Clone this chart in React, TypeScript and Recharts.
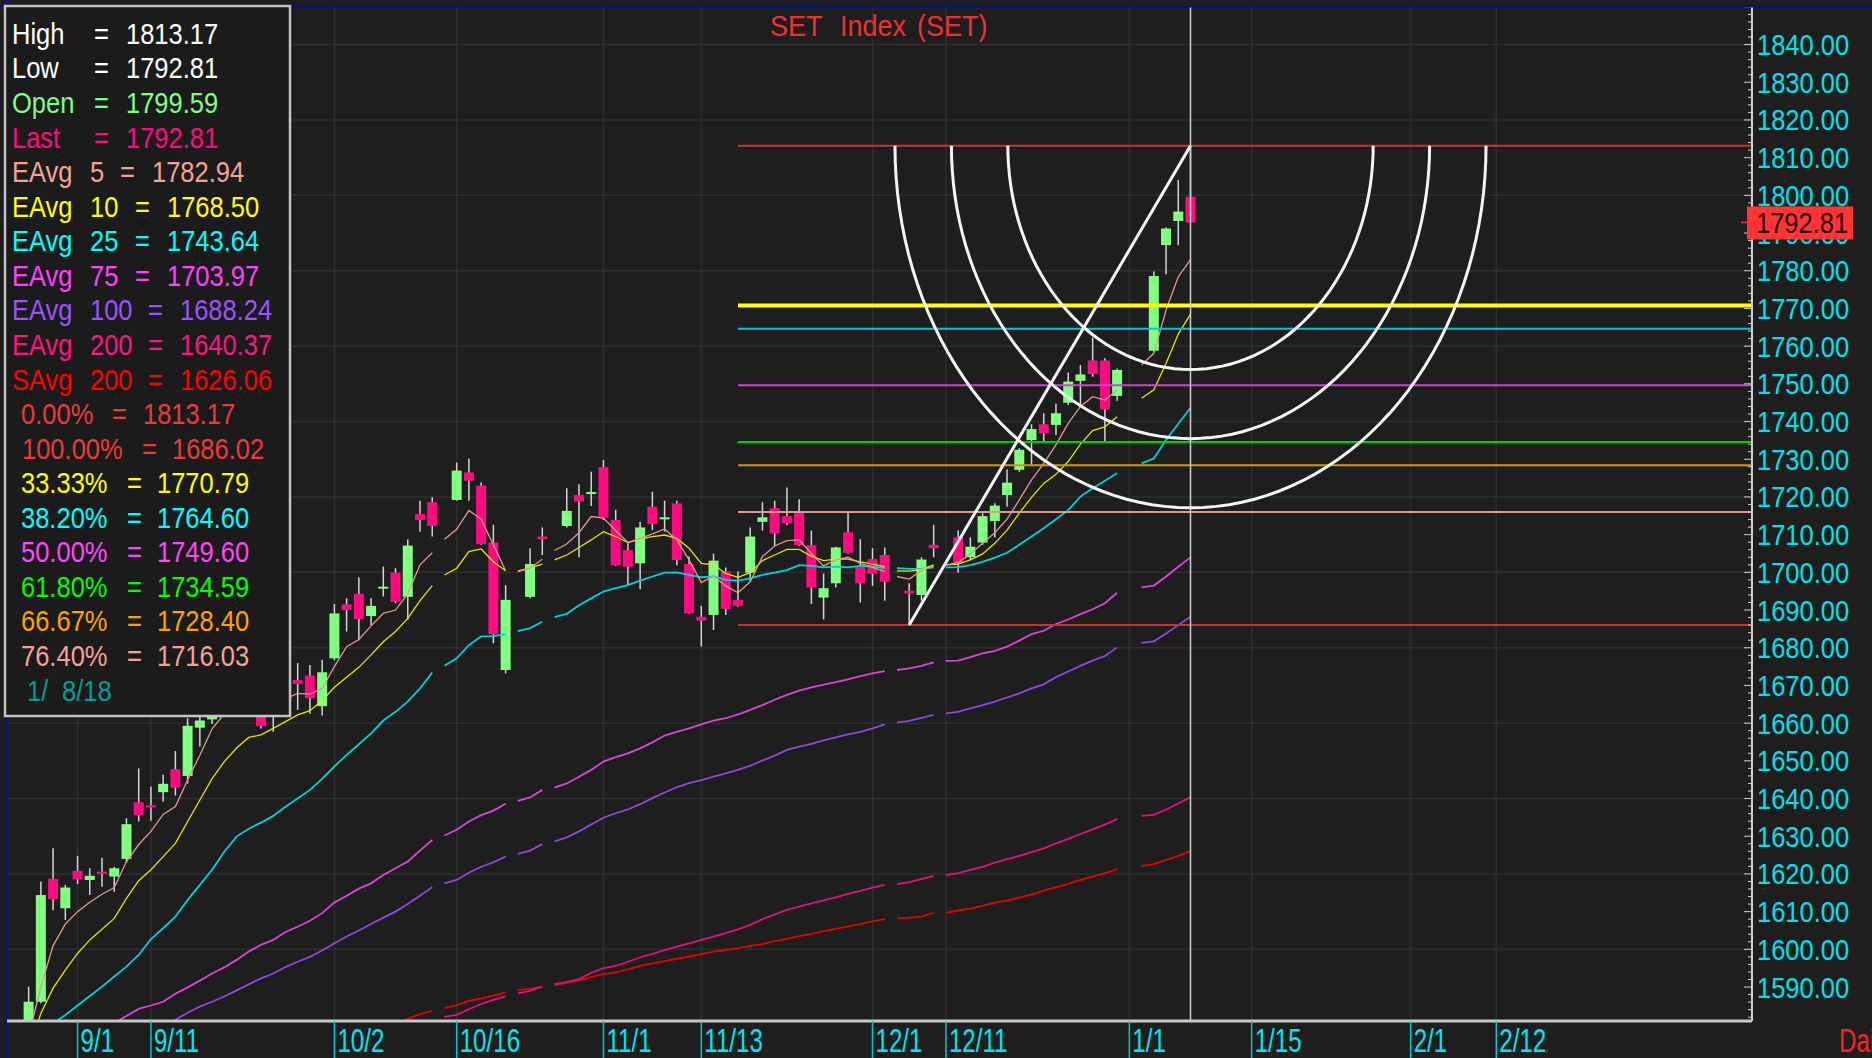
import React from "react";
import {
  ComposedChart,
  Bar,
  Line,
  Scatter,
  XAxis,
  YAxis,
  CartesianGrid,
  ReferenceLine,
} from "recharts";

const W = 1872;
const H = 1058;
const BG = "#1e1e1e";
const FONT = "'Liberation Sans', Arial, Helvetica, sans-serif";
const UP = "#80ff80";
const DOWN = "#ff0a80";
const _ = null;

// weekday slots, 0 = 9/1. holidays 30, 36, 39, 67, 71, 87 only carry an average point
const DAYS = [
  -4, -3, -2, -1, 0, 1, 2, 3, 4, 5, 6, 7, 8, 9, 10, 11, 12, 13, 14, 15, 16, 17, 18, 19, 20,
  21, 22, 23, 24, 25, 26, 27, 28, 29, 30, 31, 32, 33, 34, 35, 36, 37, 38, 39, 40, 41, 42, 43,
  44, 45, 46, 47, 48, 49, 50, 51, 52, 53, 54, 55, 56, 57, 58, 59, 60, 61, 62, 63, 64, 65, 66,
  67, 68, 69, 70, 71, 72, 73, 74, 75, 76, 77, 78, 79, 80, 81, 82, 83, 84, 85, 87, 88, 89, 90, 91,
];
// where the average lines break
const BREAKS = [29.5, 35.5, 38.5, 66.5, 70.5, 86.5];

const OPEN = [
  1575.0, 1586.1, 1618.7, 1610.9, 1620.8, 1618.4, 1620.6, 1619.3, 1624.0, 1639.0, 1638.2, 1641.7,
  1647.8, 1646.0, 1658.8, 1661.0, 1664.5, 1667.0, 1664.0, 1667.0, 1663.0, 1667.0, 1671.4, 1672.6,
  1664.5, 1677.2, 1691.5, 1694.3, 1688.4, 1696.0, 1699.9, 1693.5, 1715.5, 1718.6, _, 1719.2,
  1726.5, 1723.0, 1707.9, 1674.1, _, 1693.5, 1709.5, _, 1712.3, 1720.5, 1721.0, 1727.9, 1713.9,
  1705.9, 1702.4, 1717.4, 1714.4, 1718.3, 1702.2, 1688.2, 1688.7, 1700.2, 1692.7, 1699.9, 1713.4,
  1717.0, 1714.9, 1716.1, 1707.2, 1693.3, 1697.1, 1710.6, 1701.5, 1703.5, 1704.6, _, 1695.1,
  1694.0, 1707.3, _, 1709.3, 1704.0, 1707.9, 1713.6, 1720.5, 1727.2, 1735.1, 1739.3, 1739.1,
  1745.0, 1750.8, 1756.2, 1756.2, 1746.8, _, 1758.8, 1786.8, 1793.2, 1799.59,
];
const HIGH = [
  1590.1, 1618.0, 1626.8, 1617.1, 1624.8, 1621.5, 1624.3, 1621.9, 1634.8, 1648.0, 1643.2, 1646.3,
  1652.6, 1661.3, 1662.5, 1666.0, 1668.0, 1670.0, 1667.5, 1669.0, 1668.0, 1673.0, 1675.9, 1675.4,
  1676.8, 1691.6, 1693.1, 1698.7, 1693.1, 1701.5, 1701.1, 1708.8, 1719.0, 1719.9, _, 1729.1,
  1730.2, 1723.8, 1712.6, 1696.6, _, 1706.4, 1711.9, _, 1722.3, 1723.4, 1726.7, 1729.8, 1716.6,
  1707.7, 1713.4, 1721.4, 1719.0, 1719.0, 1704.2, 1691.1, 1705.0, 1701.3, 1700.2, 1711.9, 1718.6,
  1719.0, 1722.5, 1719.4, 1711.1, 1699.7, 1706.8, 1716.1, 1708.8, 1706.4, 1706.6, _, 1697.1,
  1704.0, 1712.6, _, 1711.2, 1709.3, 1715.7, 1718.3, 1727.3, 1732.9, 1739.3, 1742.2, 1744.7,
  1753.0, 1755.0, 1762.3, 1756.8, 1754.1, _, 1779.8, 1791.5, 1804.1, 1813.17,
];
const LOW = [
  1573.0, 1585.7, 1610.4, 1607.8, 1617.3, 1614.4, 1616.6, 1615.3, 1623.0, 1633.9, 1634.1, 1639.2,
  1640.8, 1644.0, 1653.8, 1659.8, 1662.5, 1663.0, 1662.5, 1658.6, 1657.7, 1665.0, 1663.5, 1662.5,
  1662.0, 1676.7, 1684.3, 1682.0, 1686.0, 1693.6, 1691.8, 1687.4, 1710.8, 1709.5, _, 1719.0,
  1719.0, 1707.3, 1681.2, 1673.2, _, 1693.1, 1704.6, _, 1711.9, 1704.0, 1717.6, 1713.9, 1701.7,
  1696.6, 1695.5, 1711.2, 1710.8, 1701.9, 1689.0, 1680.3, 1684.7, 1688.7, 1690.9, 1697.5, 1711.1,
  1707.0, 1712.5, 1707.0, 1691.6, 1687.5, 1696.0, 1705.0, 1692.0, 1696.4, 1692.5, _, 1686.02,
  1692.5, 1704.0, _, 1699.9, 1703.3, 1707.3, 1709.3, 1717.4, 1726.7, 1728.5, 1734.7, 1736.4,
  1744.4, 1744.0, 1751.9, 1734.7, 1745.5, _, 1758.5, 1779.1, 1786.8, 1792.81,
];
const CLOSE = [
  1586.1, 1614.4, 1613.3, 1616.4, 1618.6, 1619.5, 1620.5, 1621.5, 1633.2, 1635.6, 1638.0, 1643.9,
  1642.9, 1659.3, 1660.7, 1664.5, 1667.0, 1664.0, 1666.0, 1659.2, 1667.0, 1671.0, 1670.4, 1666.6,
  1673.5, 1689.1, 1690.0, 1687.6, 1691.1, 1696.2, 1692.2, 1707.1, 1713.9, 1712.3, _, 1727.0,
  1724.3, 1707.5, 1683.6, 1692.7, _, 1702.2, 1708.8, _, 1716.3, 1718.8, 1721.3, 1714.5, 1701.9,
  1701.5, 1711.9, 1712.8, 1714.6, 1703.3, 1689.1, 1687.2, 1703.1, 1690.3, 1691.1, 1709.5, 1714.6,
  1710.3, 1713.0, 1707.2, 1696.0, 1695.8, 1706.6, 1705.2, 1697.1, 1699.6, 1697.5, _, 1694.4,
  1703.4, 1706.4, _, 1702.4, 1706.8, 1714.9, 1717.7, 1723.8, 1732.5, 1738.0, 1736.9, 1742.2,
  1750.6, 1752.5, 1752.6, 1743.2, 1753.7, _, 1778.6, 1791.2, 1795.7, 1792.81,
];

const EMA5 = [
  1577.0, 1590.0, 1601.0, 1606.7, 1610.0, 1612.5, 1614.6, 1616.4, 1623.3, 1627.8, 1631.3, 1635.8,
  1637.9, 1644.9, 1651.5, 1658.5, 1662.5, 1664.0, 1665.0, 1663.5, 1664.5, 1666.5, 1667.9, 1667.7,
  1669.2, 1675.0, 1680.3, 1682.2, 1685.8, 1689.1, 1690.0, 1694.3, 1702.0, 1705.2, 1708.8, 1711.4,
  1716.4, 1714.1, 1707.3, 1700.4, 1700.2, 1701.1, 1703.5, 1705.8, 1707.5, 1710.5, 1714.8, 1714.4,
  1711.1, 1707.9, 1709.0, 1710.2, 1711.5, 1708.6, 1703.3, 1697.3, 1699.0, 1696.4, 1694.6, 1697.5,
  1704.2, 1707.0, 1708.4, 1708.6, 1705.0, 1701.7, 1703.3, 1704.0, 1702.4, 1701.3, 1700.2, 1698.9,
  1698.2, 1700.5, 1701.7, 1702.0, 1702.6, 1704.9, 1707.7, 1710.5, 1714.1, 1719.2, 1724.5, 1728.9,
  1733.8, 1739.5, 1744.0, 1746.6, 1745.7, 1748.4, 1755.0, 1758.1, 1769.6, 1778.4, 1782.94,
];
const EMA10 = [
  1573.0, 1583.0, 1589.7, 1594.5, 1598.9, 1602.5, 1605.3, 1608.2, 1613.5, 1618.2, 1621.1, 1624.6,
  1628.1, 1633.9, 1639.6, 1645.3, 1649.8, 1653.4, 1656.2, 1656.9, 1658.6, 1660.4, 1662.2, 1663.3,
  1666.0, 1669.5, 1672.2, 1674.8, 1678.1, 1681.6, 1684.3, 1687.8, 1692.5, 1696.5, 1699.3, 1701.1,
  1705.5, 1706.2, 1702.8, 1700.4, 1700.4, 1701.1, 1702.2, 1703.3, 1704.6, 1706.6, 1708.6, 1710.8,
  1709.5, 1707.9, 1708.8, 1709.5, 1709.9, 1709.0, 1706.4, 1702.4, 1702.0, 1699.7, 1698.7, 1699.9,
  1703.1, 1704.6, 1706.1, 1706.1, 1704.3, 1703.1, 1703.5, 1703.5, 1702.8, 1702.2, 1701.5, 1700.4,
  1700.3, 1700.7, 1702.0, 1702.0, 1702.2, 1703.3, 1704.9, 1707.7, 1711.2, 1715.7, 1719.9, 1723.6,
  1726.0, 1729.4, 1734.0, 1737.6, 1738.6, 1741.3, 1746.2, 1748.4, 1755.4, 1763.2, 1768.5,
];
const EMA25 = [
  1576.0, 1578.0, 1580.3, 1582.6, 1585.1, 1587.6, 1590.1, 1592.8, 1595.4, 1598.5, 1602.7, 1605.6,
  1608.7, 1613.1, 1617.1, 1621.1, 1625.9, 1629.9, 1632.0, 1633.6, 1635.4, 1637.8, 1640.0, 1642.3,
  1645.2, 1648.5, 1651.6, 1654.4, 1657.3, 1660.7, 1663.0, 1665.7, 1669.2, 1673.4, 1675.2, 1677.2,
  1680.7, 1683.0, 1683.1, 1683.6, 1684.4, 1685.2, 1686.9, 1688.1, 1689.0, 1691.3, 1693.1, 1694.9,
  1695.8, 1696.6, 1697.8, 1698.9, 1699.9, 1700.0, 1699.3, 1698.7, 1698.9, 1698.0, 1697.8, 1698.4,
  1699.3, 1699.9, 1700.6, 1701.9, 1701.7, 1701.3, 1701.5, 1701.3, 1701.7, 1701.5, 1701.1, 1701.1,
  1700.9, 1701.0, 1701.3, 1701.3, 1701.4, 1701.9, 1702.8, 1703.9, 1705.2, 1707.3, 1709.5, 1711.7,
  1714.1, 1716.5, 1720.1, 1722.3, 1724.3, 1726.3, 1728.9, 1730.2, 1735.1, 1739.4, 1743.64,
];
const EMA75 = [
  _, _, _, _, _, _, 1578.5, 1580.5, 1582.3, 1584.2, 1585.1, 1586.1,
  1588.2, 1589.9, 1591.7, 1593.6, 1595.2, 1597.2, 1599.4, 1601.2, 1602.5, 1604.6, 1606.0, 1607.6,
  1609.6, 1612.4, 1614.2, 1616.1, 1617.5, 1619.7, 1621.5, 1623.3, 1626.2, 1629.0, 1630.2, 1631.7,
  1633.9, 1635.6, 1636.8, 1638.6, 1639.4, 1640.3, 1642.3, 1642.9, 1644.0, 1645.8, 1647.6, 1649.8,
  1651.0, 1652.0, 1653.3, 1654.9, 1656.7, 1657.7, 1658.6, 1659.7, 1660.7, 1661.3, 1662.3, 1663.5,
  1664.8, 1666.2, 1667.5, 1668.6, 1669.5, 1670.2, 1670.9, 1671.6, 1672.5, 1673.2, 1673.8, 1674.1,
  1674.5, 1675.2, 1676.1, 1676.5, 1676.6, 1677.5, 1678.5, 1679.2, 1680.3, 1681.9, 1683.6, 1684.5,
  1686.3, 1687.5, 1688.9, 1690.2, 1691.8, 1694.6, 1696.0, 1696.5, 1698.9, 1701.5, 1703.97,
];
const EMA100 = [
  _, _, _, _, _, _, _, _, _, _, _, 1579.5,
  1581.3, 1583.2, 1584.8, 1586.1, 1587.5, 1589.1, 1590.7, 1592.3, 1593.6, 1595.3, 1596.7, 1598.0,
  1599.7, 1601.6, 1603.4, 1605.0, 1606.7, 1608.4, 1610.0, 1612.0, 1614.2, 1616.5, 1617.5, 1618.4,
  1620.3, 1621.9, 1623.1, 1624.6, 1625.3, 1626.2, 1627.9, 1628.6, 1629.7, 1631.3, 1633.1, 1634.9,
  1636.1, 1637.1, 1638.5, 1640.1, 1641.6, 1643.0, 1644.1, 1644.9, 1645.8, 1646.7, 1647.6, 1648.7,
  1650.1, 1651.4, 1652.9, 1653.8, 1654.5, 1655.4, 1656.2, 1657.0, 1657.7, 1658.6, 1659.7, 1660.2,
  1660.6, 1661.4, 1662.2, 1662.6, 1663.0, 1663.9, 1664.8, 1665.7, 1666.8, 1667.9, 1669.2, 1670.3,
  1672.2, 1673.7, 1675.2, 1676.6, 1677.8, 1680.1, 1681.3, 1681.7, 1683.8, 1686.0, 1688.24,
];
const EMA200 = [
  _, _, _, _, _, _, _, _, _, _, _, _,
  _, _, _, _, _, _, _, _, _, _, _, _,
  _, _, _, _, _, _, _, _, _, _, 1582.1, 1582.6,
  1584.1, 1585.5, 1586.6, 1587.5, 1588.3, 1589.0, 1590.1, 1590.8, 1591.3, 1592.1, 1593.8, 1595.0,
  1595.6, 1596.7, 1597.9, 1598.8, 1599.8, 1600.7, 1601.6, 1602.5, 1603.4, 1604.3, 1605.3, 1606.5,
  1608.0, 1609.2, 1610.5, 1611.3, 1612.2, 1613.0, 1613.8, 1614.7, 1615.5, 1616.4, 1617.1, 1617.3,
  1617.8, 1618.6, 1619.5, 1619.7, 1620.2, 1621.1, 1621.9, 1623.0, 1623.9, 1624.8, 1625.8, 1626.8,
  1628.1, 1629.3, 1630.6, 1631.8, 1633.1, 1634.6, 1635.4, 1635.7, 1637.1, 1638.7, 1640.37,
];
const SMA200 = [
  _, _, _, _, _, _, _, _, _, _, _, _,
  _, _, _, _, _, _, _, _, _, _, _, _,
  _, _, _, _, _, _, 1580.2, 1581.5, 1582.8, 1583.7, 1584.4, 1585.2,
  1586.3, 1587.0, 1587.7, 1588.6, 1589.2, 1589.5, 1590.1, 1590.5, 1591.2, 1591.8, 1592.6, 1593.4,
  1593.9, 1594.7, 1595.6, 1596.3, 1596.9, 1597.5, 1598.1, 1598.7, 1599.4, 1599.8, 1600.3, 1600.9,
  1601.4, 1602.2, 1602.8, 1603.5, 1604.1, 1604.8, 1605.4, 1606.1, 1606.7, 1607.4, 1608.0, 1608.2,
  1608.4, 1608.7, 1609.7, 1609.7, 1610.3, 1610.8, 1611.5, 1612.4, 1612.9, 1613.7, 1614.6, 1615.6,
  1616.5, 1617.3, 1618.4, 1619.3, 1620.2, 1621.3, 1622.1, 1622.6, 1623.7, 1624.8, 1626.06,
];

const DATE_TICKS = [0, 6, 21, 31, 43, 51, 65, 71, 86, 96, 109, 116];
const DATE_LABELS = ["9/1", "9/11", "10/2", "10/16", "11/1", "11/13", "12/1", "12/11", "1/1", "1/15", "2/1", "2/12"];
const PRICE_LABELS = [
  1590, 1600, 1610, 1620, 1630, 1640, 1650, 1660, 1670, 1680, 1690, 1700, 1710,
  1720, 1730, 1740, 1750, 1760, 1770, 1780, 1790, 1800, 1810, 1820, 1830, 1840,
];
const GRID_PRICES = [1600, 1620, 1640, 1660, 1680, 1700, 1720, 1740, 1760, 1780, 1800, 1820, 1840];
const LAST_PRICE = 1792.81;

// fibonacci retracement from the 12/6 low to the 1/8 high
const FIB_START = 54;
const FIB_LEVELS = [1813.17, 1686.02, 1770.79, 1764.6, 1749.6, 1734.59, 1728.4, 1716.03];
const FIB_COLORS = ["#c83232", "#c83232", "#ffff00", "#00c8d2", "#d242d2", "#00d200", "#d29614", "#e09a92"];
const FIB_WIDTHS = [2, 2, 4, 2, 2, 2, 2, 2];
const TREND_LOW = { x: 68, y: 1686.02 };
const TREND_HIGH = { x: 91, y: 1813.17 };
const ARC_RATIOS = [0.382, 0.5, 0.618];
const ARC_SPAN_DAYS = 39.1;
const ARC_SPAN_POINTS = 155.4;

const X_MIN = -5.85;
const X_MAX = 136.91;
const Y_MIN = 1580.99;
const Y_MAX = 1850.23;

const LEGEND = [
  ["High", "", "1813.17", "#ffffff", "p"],
  ["Low", "", "1792.81", "#ffffff", "p"],
  ["Open", "", "1799.59", "#80ff80", "p"],
  ["Last", "", "1792.81", "#ff0a80", "p"],
  ["EAvg", "5", "1782.94", "#f4a294", "e1"],
  ["EAvg", "10", "1768.50", "#ffff00", "e2"],
  ["EAvg", "25", "1743.64", "#00ffff", "e2"],
  ["EAvg", "75", "1703.97", "#ff40ff", "e2"],
  ["EAvg", "100", "1688.24", "#9a52ff", "e3"],
  ["EAvg", "200", "1640.37", "#ff1482", "e3"],
  ["SAvg", "200", "1626.06", "#ff0000", "e3"],
  ["0.00%", "", "1813.17", "#ec3a3a", "f0"],
  ["100.00%", "", "1686.02", "#ec3a3a", "f100"],
  ["33.33%", "", "1770.79", "#ffff00", "f"],
  ["38.20%", "", "1764.60", "#00ffff", "f"],
  ["50.00%", "", "1749.60", "#ff44ff", "f"],
  ["61.80%", "", "1734.59", "#00ff00", "f"],
  ["66.67%", "", "1728.40", "#ffa200", "f"],
  ["76.40%", "", "1716.03", "#f4a294", "f"],
];
const LEGEND_COLS: Record<string, number[]> = {
  p: [12, 0, 94, 126],
  e1: [12, 90, 120, 152],
  e2: [12, 90, 135, 167],
  e3: [12, 90, 148, 180],
  f0: [21, 0, 112, 143],
  f100: [22, 0, 142, 172],
  f: [21, 0, 127, 157],
};

const rows: any[] = DAYS.map((x, i) => ({
  x,
  open: OPEN[i],
  high: HIGH[i],
  low: LOW[i],
  close: CLOSE[i],
  e5: EMA5[i],
  e10: EMA10[i],
  e25: EMA25[i],
  e75: EMA75[i],
  e100: EMA100[i],
  e200: EMA200[i],
  s200: SMA200[i],
}));
BREAKS.forEach((b) => rows.push({ x: b }));
rows.sort((a, b) => a.x - b.x);

const ARC_STEPS = 72;
const arcs = ARC_RATIOS.map((r) =>
  Array.from({ length: ARC_STEPS + 1 }, (_, k) => {
    const t = Math.PI + (Math.PI * k) / ARC_STEPS;
    return {
      x: TREND_HIGH.x + ARC_SPAN_DAYS * r * Math.cos(t),
      y: TREND_HIGH.y + ARC_SPAN_POINTS * r * Math.sin(t),
    };
  })
);

const yTicks = Array.from({ length: 135 }, (_, i) => 1582 + 2 * i).concat([LAST_PRICE]);

const TXT = 29;
const TXT_SX = 0.88;

function SText({ x, y, size, sx, color, children }: any) {
  return (
    <text
      transform={`translate(${x},${y}) scale(${sx},1)`}
      fontSize={size}
      fill={color}
      fontFamily={FONT}
      style={{ whiteSpace: "pre" }}
    >
      {children}
    </text>
  );
}

function Candle(props: any) {
  const { x, y, width, height, payload } = props;
  if (!payload || payload.high == null) return null;
  const { open, close, high, low } = payload;
  const top = Math.min(y, y + height);
  const h = Math.abs(height);
  const k = high > low ? h / (high - low) : 0;
  const cx = x + width / 2;
  const yo = top + (high - open) * k;
  const yc = top + (high - close) * k;
  const up = close >= open;
  return (
    <g>
      <line x1={cx} x2={cx} y1={top} y2={top + h} stroke="#d4d4d4" strokeWidth={1.5} />
      <rect x={cx - 5} y={Math.min(yo, yc)} width={10} height={Math.max(Math.abs(yc - yo), 2)} fill={up ? UP : DOWN} />
    </g>
  );
}

function PriceTick({ x, y, payload }: any) {
  const v = payload.value;
  if (v === LAST_PRICE) {
    return (
      <g>
        <line x1={x - 11} x2={x - 4} y1={y} y2={y} stroke="#ff3030" strokeWidth={1.5} />
        <rect x={x - 5} y={y - 16} width={106} height={33} fill="#ff3434" />
        <SText x={x + 4} y={y + 10.5} size={TXT} sx={TXT_SX} color="#2a0000">
          {v.toFixed(2)}
        </SText>
      </g>
    );
  }
  const major = v % 10 === 0;
  return (
    <g>
      <line x1={x - (major ? 8 : 4)} x2={x} y1={y} y2={y} stroke="#d0d0d0" strokeWidth={1} />
      {major && PRICE_LABELS.includes(v) && (
        <SText x={x + 5} y={y + 10.5} size={TXT} sx={TXT_SX} color="#00e2ea">
          {v.toFixed(2)}
        </SText>
      )}
    </g>
  );
}

function DateTick({ x, y, payload }: any) {
  const i = DATE_TICKS.indexOf(payload.value);
  return (
    <g>
      <line x1={x} x2={x} y1={y} y2={y + 40} stroke="#00c8d2" strokeWidth={1.5} />
      <SText x={x + 3} y={y + 31} size={34} sx={0.71} color="#00e6ee">
        {DATE_LABELS[i]}
      </SText>
    </g>
  );
}

function Legend() {
  const base = 43.8;
  const step = 34.57;
  return (
    <g>
      <rect x={5} y={6} width={285} height={710} fill="#1b1b1b" stroke="#c4c4c4" strokeWidth={2.5} />
      {LEGEND.map(([label, num, value, color, kind], k) => {
        const c = LEGEND_COLS[kind];
        const by = base + step * k;
        return (
          <g key={k}>
            <SText x={c[0]} y={by} size={TXT} sx={TXT_SX} color={color}>{label}</SText>
            {num && <SText x={c[1]} y={by} size={TXT} sx={TXT_SX} color={color}>{num}</SText>}
            <SText x={c[2]} y={by} size={TXT} sx={TXT_SX} color={color}>=</SText>
            <SText x={c[3]} y={by} size={TXT} sx={TXT_SX} color={color}>{value}</SText>
          </g>
        );
      })}
      <SText x={27} y={base + step * 19} size={TXT} sx={TXT_SX} color="#009c9c">1/</SText>
      <SText x={62} y={base + step * 19} size={TXT} sx={TXT_SX} color="#009c9c">8/18</SText>
    </g>
  );
}

export default function App() {
  return (
    <div style={{ position: "absolute", left: 0, top: 0, width: W, height: H, background: BG, overflow: "hidden" }}>
      <ComposedChart width={W} height={H} data={rows} margin={{ top: 6, right: 0, bottom: 0, left: 6 }}>
        <CartesianGrid stroke="#2e2e2e" strokeWidth={1.5} horizontalValues={GRID_PRICES} verticalValues={DATE_TICKS} />
        <XAxis
          type="number"
          dataKey="x"
          domain={[X_MIN, X_MAX]}
          allowDataOverflow
          ticks={DATE_TICKS}
          interval={0}
          height={37}
          tickSize={0}
          tickMargin={0}
          tickLine={false}
          axisLine={{ stroke: "#c8c8c8", strokeWidth: 3 }}
          tick={(p: any) => <DateTick {...p} />}
        />
        <YAxis
          orientation="right"
          type="number"
          domain={[Y_MIN, Y_MAX]}
          allowDataOverflow
          ticks={yTicks}
          interval={0}
          width={120}
          tickSize={0}
          tickMargin={0}
          tickLine={false}
          axisLine={{ stroke: "#d0d0d0", strokeWidth: 2 }}
          tick={(p: any) => <PriceTick {...p} />}
        />
        <Bar
          dataKey={(d: any) => (d.high == null ? null : [d.low, d.high])}
          shape={(p: any) => <Candle {...p} />}
          isAnimationActive={false}
        />
        <Line dataKey="s200" stroke="#e60000" strokeWidth={1.8} dot={false} activeDot={false} isAnimationActive={false} />
        <Line dataKey="e200" stroke="#e0107c" strokeWidth={1.8} dot={false} activeDot={false} isAnimationActive={false} />
        <Line dataKey="e100" stroke="#9244e0" strokeWidth={1.8} dot={false} activeDot={false} isAnimationActive={false} />
        <Line dataKey="e75" stroke="#dc44dc" strokeWidth={1.8} dot={false} activeDot={false} isAnimationActive={false} />
        <Line dataKey="e25" stroke="#00d2dc" strokeWidth={1.8} dot={false} activeDot={false} isAnimationActive={false} />
        <Line dataKey="e10" stroke="#e6e600" strokeWidth={1.3} dot={false} activeDot={false} isAnimationActive={false} />
        <Line dataKey="e5" stroke="#e09a8c" strokeWidth={1.3} dot={false} activeDot={false} isAnimationActive={false} />
        {FIB_LEVELS.map((lv, i) => (
          <ReferenceLine
            key={i}
            segment={[{ x: FIB_START, y: lv }, { x: X_MAX, y: lv }]}
            stroke={FIB_COLORS[i]}
            strokeWidth={FIB_WIDTHS[i]}
            ifOverflow="visible"
          />
        ))}
        <ReferenceLine segment={[TREND_LOW, TREND_HIGH]} stroke="#f4f4f4" strokeWidth={3} ifOverflow="visible" />
        {arcs.map((pts, i) => (
          <Scatter
            key={i}
            data={pts}
            dataKey="y"
            line={{ stroke: "#f4f4f4", strokeWidth: 3 }}
            lineType="joint"
            shape={() => <g />}
            isAnimationActive={false}
          />
        ))}
        <ReferenceLine x={TREND_HIGH.x} stroke="#cfcfcf" strokeWidth={1.5} ifOverflow="visible" />
      </ComposedChart>
      <svg width={W} height={H} style={{ position: "absolute", left: 0, top: 0, pointerEvents: "none" }}>
        <rect x={0} y={5} width={W} height={2.5} fill="#0a0a9c" />
        <rect x={5} y={0} width={2} height={H} fill="#0a0a9c" />
        <Legend />
        <SText x={770} y={36} size={29} sx={0.93} color="#f03030">SET</SText>
        <SText x={840} y={36} size={29} sx={0.93} color="#f03030">Index</SText>
        <SText x={917} y={36} size={29} sx={0.93} color="#f03030">(SET)</SText>
        <SText x={1839} y={1052} size={34} sx={0.71} color="#ff2020">Daily</SText>
      </svg>
    </div>
  );
}
